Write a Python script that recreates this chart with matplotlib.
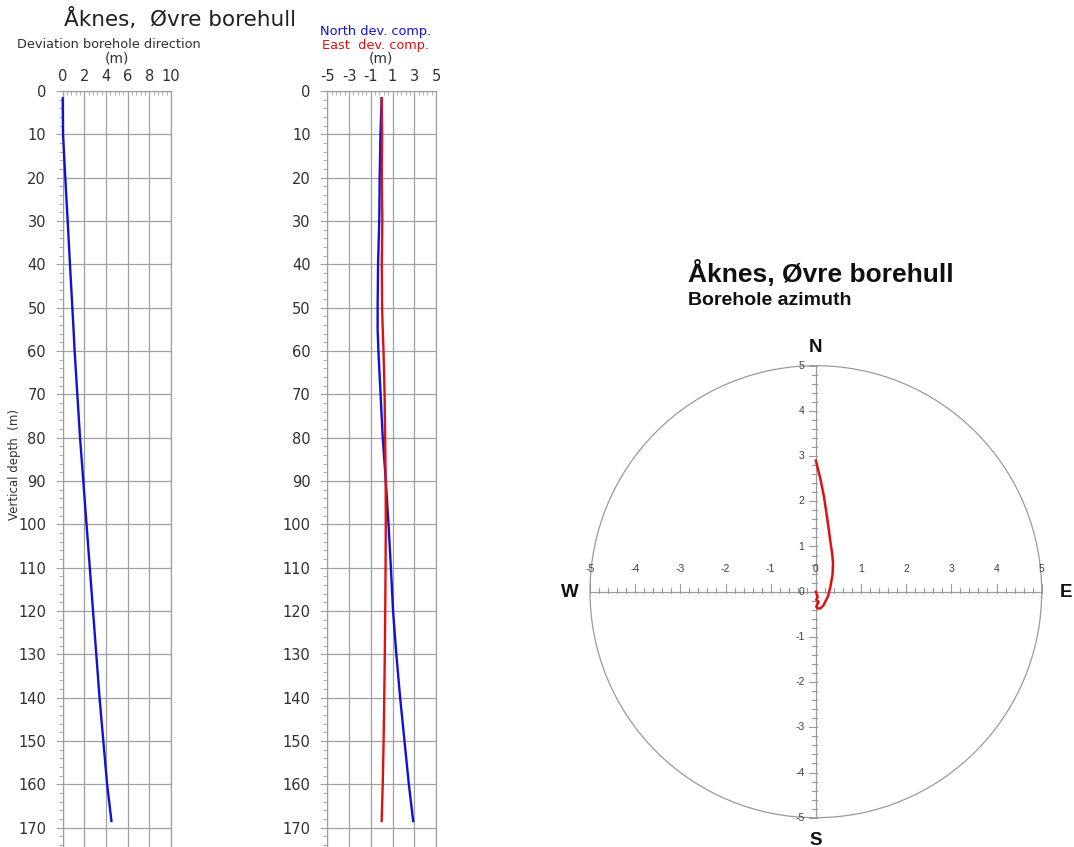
import numpy as np
import matplotlib

matplotlib.use("Agg")
import matplotlib.pyplot as plt
from matplotlib.patches import Circle
from matplotlib.ticker import FixedLocator

plt.rcParams["axes.unicode_minus"] = False

# borehole survey, depth in metres
depth = [1.7, 10, 20, 30, 40, 50, 55, 60, 70, 80, 90, 100, 110, 120, 130, 140, 150, 160, 168.5]
deviation = [0.0, 0.03, 0.24, 0.46, 0.67, 0.89, 1.0, 1.1, 1.35, 1.6, 1.9, 2.2, 2.5, 2.8, 3.1, 3.4, 3.75, 4.1, 4.5]
north = [0.0, -0.11, -0.18, -0.22, -0.33, -0.37, -0.37, -0.3, -0.1, 0.1, 0.38, 0.63, 0.85, 1.05, 1.35, 1.7, 2.1, 2.5, 2.9]
east = [0.0, 0.04, 0.01, 0.06, 0.01, 0.04, 0.1, 0.17, 0.27, 0.32, 0.37, 0.38, 0.36, 0.33, 0.29, 0.24, 0.18, 0.1, 0.0]

dev_ticks = [0, 2, 4, 6, 8, 10]
comp_ticks = [-5, -3, -1, 1, 3, 5]
depth_ticks = list(range(0, 171, 10))
azi_ticks = [-5, -4, -3, -2, -1, 0, 1, 2, 3, 4, 5]

W, H = 1074, 847
BLUE = "#1010d8"
RED = "#e01010"
GRID = "#a0a0a0"
TXT = "#303030"


def box(x0, y0, x1, y1):
    return [x0 / W, 1 - y1 / H, (x1 - x0) / W, (y1 - y0) / H]


fig = plt.figure(figsize=(W / 100, H / 100), dpi=100)


def depth_axes(rect, xlim, xticks):
    ax = fig.add_axes(rect)
    ax.set_xlim(*xlim)
    ax.set_ylim(174.5, 0)
    ax.xaxis.tick_top()
    ax.set_xticks(xticks)
    ax.xaxis.set_minor_locator(FixedLocator(np.arange(xlim[0], xlim[1] + 0.01, 0.4)))
    ax.set_yticks(depth_ticks)
    ax.yaxis.set_minor_locator(FixedLocator(np.arange(0, 175, 2)))
    ax.tick_params(axis="x", which="major", direction="in", length=0, pad=5,
                   labelsize=10.5, labelcolor=TXT)
    ax.tick_params(axis="x", which="minor", direction="in", length=3, color=GRID)
    ax.tick_params(axis="y", which="major", direction="out", length=5, color=GRID,
                   pad=7, labelsize=10.5, labelcolor=TXT)
    ax.tick_params(axis="y", which="minor", direction="out", length=3, color=GRID)
    for lbl in ax.get_xticklabels() + ax.get_yticklabels():
        lbl.set_family("DejaVu Sans")
    ax.grid(True, which="major", color=GRID, lw=0.9)
    for side, sp in ax.spines.items():
        sp.set_color(GRID)
        sp.set_linewidth(0.9)
    ax.spines["bottom"].set_visible(False)
    return ax


# deviation along the hole
ax1 = depth_axes(box(62.7, 91, 171, 847), (0, 10), dev_ticks)
ax1.plot(deviation, depth, color=BLUE, lw=1.7, zorder=5, clip_on=False)

# north / east components
ax2 = depth_axes(box(327.3, 91, 436, 847), (-5, 5), comp_ticks)
ax2.plot(north, depth, color=BLUE, lw=1.7, zorder=5)
ax2.plot(east, depth, color=RED, lw=1.7, zorder=5)

fig.text(180 / W, 1 - 19 / H, "Åknes,  Øvre borehull", ha="center", va="center",
         fontsize=15.5, family="DejaVu Sans", color="#202020")
fig.text(109 / W, 1 - 44 / H, "Deviation borehole direction", ha="center", va="center",
         fontsize=9.3, family="DejaVu Sans", color=TXT)
fig.text(117 / W, 1 - 59 / H, "(m)", ha="center", va="center",
         fontsize=10, family="DejaVu Sans", color=TXT)
fig.text(376 / W, 1 - 31 / H, "North dev. comp.", ha="center", va="center",
         fontsize=9.3, family="DejaVu Sans", color=BLUE)
fig.text(376 / W, 1 - 45 / H, "East  dev. comp.", ha="center", va="center",
         fontsize=9.3, family="DejaVu Sans", color=RED)
fig.text(381 / W, 1 - 59 / H, "(m)", ha="center", va="center",
         fontsize=10, family="DejaVu Sans", color=TXT)
fig.text(15 / W, 1 - 465 / H, "Vertical depth  (m)", ha="center", va="center",
         rotation=90, fontsize=8.5, family="DejaVu Sans", color=TXT)

# azimuth plan view
ax3 = fig.add_axes(box(590, 365.7, 1041.7, 817.7))
ax3.set_xlim(-5, 5)
ax3.set_ylim(-5, 5)
ax3.axis("off")
ax3.add_patch(Circle((0, 0), 5, fill=False, ec="#9a9a9a", lw=0.9, clip_on=False))
ax3.plot([-5, 5], [0, 0], color="#9a9a9a", lw=0.9, clip_on=False)
ax3.plot([0, 0], [-5, 5], color="#9a9a9a", lw=0.9, clip_on=False)
for v in np.arange(-5, 5.01, 0.2):
    major = abs(v - round(v)) < 1e-6
    L = 0.16 if major else 0.08
    ax3.plot([v, v], [-0.02, L], color="#9a9a9a", lw=0.8, clip_on=False)
    ax3.plot([-L, 0.02], [v, v], color="#9a9a9a", lw=0.8, clip_on=False)
for t in azi_ticks:
    ax3.text(t, 0.5, str(t), ha="center", va="center", fontsize=7.5,
             family="Liberation Sans", color="#404040")
    ax3.text(-0.25, t, str(t), ha="right", va="center", fontsize=7.5,
             family="Liberation Sans", color="#404040")
ax3.plot(east, north, color=RED, lw=1.8, clip_on=False, zorder=5)

for s, (x, y) in {"N": (815.7, 347), "S": (815.7, 840), "W": (570, 592), "E": (1066, 592)}.items():
    fig.text(x / W, 1 - y / H, s, ha="center", va="center", fontsize=13.5,
             weight="bold", family="Liberation Sans", color="#101010")

fig.text(688 / W, 1 - 273 / H, "Åknes, Øvre borehull", ha="left", va="center",
         fontsize=19, weight="bold", family="Liberation Sans", color="#101010")
fig.text(688 / W, 1 - 300 / H, "Borehole azimuth", ha="left", va="center",
         fontsize=14, weight="bold", family="Liberation Sans", color="#101010")

fig.savefig("out.png", dpi=100, facecolor="white")
